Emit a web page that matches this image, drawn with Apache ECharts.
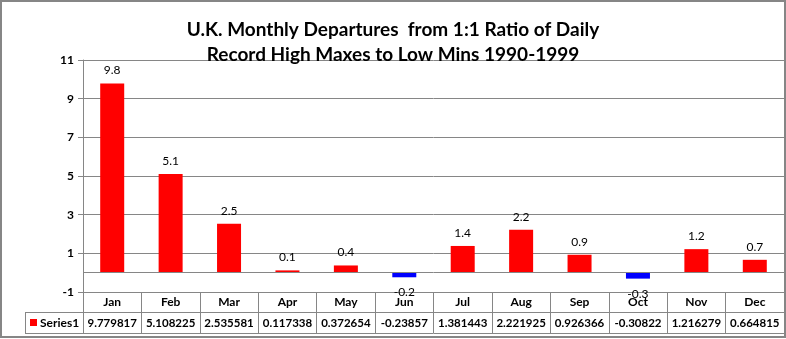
<!DOCTYPE html>
<html>
<head>
<meta charset="utf-8">
<script src="https://cdn.jsdelivr.net/npm/echarts@6/dist/echarts.min.js"></script>
<style>html,body{margin:0;padding:0;background:#fff}#c{width:786px;height:339px}</style>
</head>
<body>
<div id="c"></div>
<script>
const categories = ['Jan','Feb','Mar','Apr','May','Jun','Jul','Aug','Sep','Oct','Nov','Dec'];
const values = [9.779817, 5.108225, 2.535581, 0.117338, 0.372654, -0.23857, 1.381443, 2.221925, 0.926366, -0.30822, 1.216279, 0.664815];
const seriesName = 'Series1';
const titleLines = ['U.K. Monthly Departures  from 1:1 Ratio of Daily', 'Record High Maxes to Low Mins 1990-1999'];

const FONT = 'Lato, "Open Sans", sans-serif';
const GRAY = '#868686';
const chart = echarts.init(document.getElementById('c'), null, {renderer: 'canvas'});

const cellGraphics = [
  {type: 'rect', shape: {x: 1, y: 1, width: 784, height: 336}, style: {fill: 'none', stroke: GRAY, lineWidth: 2}, z: 10},
  {type: 'line', shape: {x1: 25, y1: 312.5, x2: 83, y2: 312.5}, style: {stroke: GRAY, lineWidth: 1}},
  {type: 'line', shape: {x1: 25, y1: 333.5, x2: 83, y2: 333.5}, style: {stroke: GRAY, lineWidth: 1}},
  {type: 'line', shape: {x1: 25.5, y1: 312, x2: 25.5, y2: 334}, style: {stroke: GRAY, lineWidth: 1}},
  {type: 'rect', shape: {x: 30, y: 319, width: 7, height: 7}, style: {fill: '#FF0000'}},
  {type: 'text', x: 40, y: 323, style: {text: seriesName, font: 'bold 12px ' + FONT, fill: '#000', textVerticalAlign: 'middle'}}
];

chart.setOption({
  animation: false,
  title: {
    text: titleLines.join('\n'),
    left: 'center', top: 12,
    textStyle: {fontFamily: FONT, fontWeight: 'bold', fontSize: 19, lineHeight: 25, color: '#000'}
  },
  grid: {left: 83, right: 2, top: 60, bottom: 47, containLabel: false},
  xAxis: [
    {
      type: 'category', data: categories, position: 'bottom',
      axisLine: {onZero: false, lineStyle: {color: GRAY}},
      axisTick: {show: true, alignWithLabel: false, length: 41, lineStyle: {color: GRAY}},
      axisLabel: {interval: 0, hideOverlap: false, fontFamily: FONT, fontWeight: 'bold', fontSize: 12, color: '#000', margin: 4}
    },
    {
      type: 'category', data: values.map(v => String(v)), position: 'bottom', offset: 20,
      axisLine: {show: true, onZero: false, lineStyle: {color: GRAY}},
      axisTick: {show: false},
      axisLabel: {interval: 0, hideOverlap: false, fontFamily: FONT, fontWeight: 'bold', fontSize: 11.5, color: '#000', margin: 5}
    },
    {
      type: 'category', data: categories, position: 'bottom', offset: 41,
      axisLine: {show: true, onZero: false, lineStyle: {color: GRAY}},
      axisTick: {show: false}, axisLabel: {show: false}
    }
  ],
  yAxis: {
    type: 'value', min: -1, max: 11, interval: 2,
    axisLine: {show: true, lineStyle: {color: GRAY}},
    axisTick: {show: true, length: 5, lineStyle: {color: GRAY}},
    axisLabel: {fontFamily: FONT, fontWeight: 'bold', fontSize: 12, color: '#000', margin: 9},
    splitLine: {show: true, lineStyle: {color: GRAY}}
  },
  series: [{
    type: 'bar', name: seriesName, xAxisIndex: 0,
    barWidth: 24,
    data: values.map(v => ({
      value: v,
      itemStyle: {color: v < 0 ? '#0000FF' : '#FF0000'},
      label: {position: v < 0 ? 'bottom' : 'top', distance: v < 0 ? 9 : 7}
    })),
    label: {show: true, formatter: p => p.value.toFixed(1), fontFamily: FONT, fontSize: 12, color: '#000'},
    markLine: {
      silent: true, symbol: 'none', label: {show: false},
      lineStyle: {color: GRAY, type: 'solid', width: 1},
      data: [{yAxis: 0}]
    }
  }],
  graphic: cellGraphics
});
</script>
</body>
</html>
